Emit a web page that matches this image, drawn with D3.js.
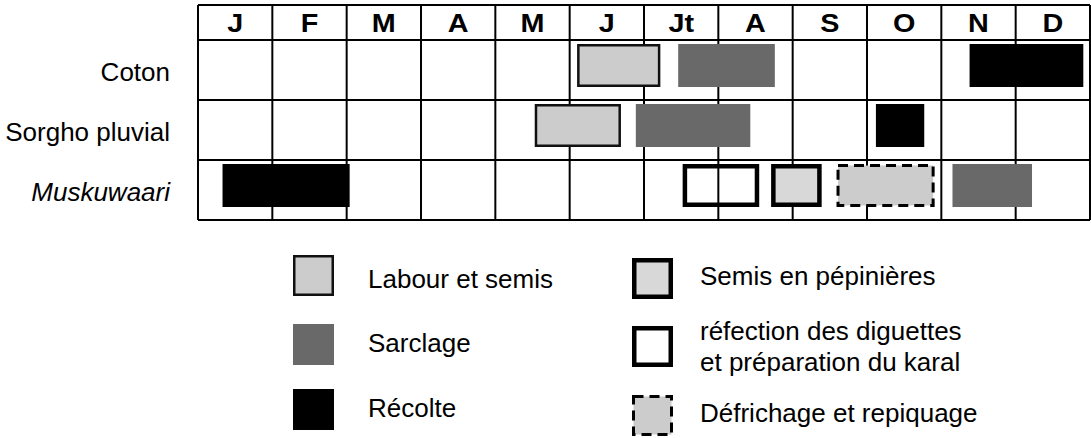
<!DOCTYPE html>
<html>
<head>
<meta charset="utf-8">
<script src="https://cdn.jsdelivr.net/npm/d3@7"></script>
<style>
  body { margin: 0; background: #fff; }
  text { font-family: "Liberation Sans", Arial, sans-serif; }
</style>
</head>
<body>
<svg id="calendar-svg"></svg>
<script>
const WIDTH = 1091;
const HEIGHT = 438;

// Datos.
const MONTHS = ["J", "F", "M", "A", "M", "J", "Jt", "A", "S", "O", "N", "D"];
const CROPS = ["Coton", "Sorgho pluvial", "Muskuwaari"];
const ITALIC_CROPS = ["Muskuwaari"];

// activity keys and legend texts (lines)
const ACTIVITIES = ["labour", "sarclage", "recolte", "pepiniere", "refection", "defrichage"];
const ACTIVITY_LABELS = [
  ["Labour et semis"],
  ["Sarclage"],
  ["Récolte"],
  ["Semis en pépinières"],
  ["réfection des diguettes", "et préparation du karal"],
  ["Défrichage et repiquage"]
];

// tasks: crop, activity, start / end in months from 1 January
const TASK_CROP = ["Coton", "Coton", "Coton",
                   "Sorgho pluvial", "Sorgho pluvial", "Sorgho pluvial",
                   "Muskuwaari", "Muskuwaari", "Muskuwaari", "Muskuwaari", "Muskuwaari"];
const TASK_ACTIVITY = ["labour", "sarclage", "recolte",
                       "labour", "sarclage", "recolte",
                       "recolte", "refection", "pepiniere", "defrichage", "sarclage"];
const TASK_START = [5.10, 6.46, 10.38, 4.53, 5.89, 9.12, 0.33, 6.52, 7.71, 8.59, 10.15];
const TASK_END   = [6.22, 7.76, 11.91, 5.69, 7.43, 9.77, 2.04, 7.55, 8.39, 9.91, 11.22];

// Estilos por actividad.
const FILL = d3.scaleOrdinal().domain(ACTIVITIES)
  .range(["#cccccc", "#696969", "#000000", "#d8d8d8", "none", "#cccccc"]);
const STROKE = d3.scaleOrdinal().domain(ACTIVITIES)
  .range(["#111", "none", "none", "#000", "#000", "#000"]);
const STROKE_W = d3.scaleOrdinal().domain(ACTIVITIES)
  .range([2.5, 0, 0, 4.5, 4.5, 3]);
const DASH = d3.scaleOrdinal().domain(ACTIVITIES)
  .range([null, null, null, null, null, "10,6"]);

const tasks = TASK_CROP.map((c, i) => ({
  crop: c, activity: TASK_ACTIVITY[i], start: TASK_START[i], end: TASK_END[i]
}));

// Configuración.
const GRID = { left: 198, right: 1090, top: 5, header: 40, bottom: 220 };

const svg = d3.select("svg#calendar-svg")
  .attr("width", WIDTH)
  .attr("height", HEIGHT);

const x = d3.scaleLinear().domain([0, 12]).range([GRID.left, GRID.right]);
const y = d3.scaleBand().domain(CROPS).range([GRID.header, GRID.bottom]);

// header labels (bold, a bit wide in the original)
svg.append("g").attr("id", "months")
  .selectAll("text")
  .data(MONTHS)
  .join("text")
    .attr("transform", (d, i) => `translate(${x(i + 0.5)}, 32) scale(1.15, 1)`)
    .attr("text-anchor", "middle")
    .attr("font-size", 25)
    .attr("font-weight", "bold")
    .text(d => d);

// crop labels
svg.append("g").attr("id", "crops")
  .selectAll("text")
  .data(CROPS)
  .join("text")
    .attr("x", 170)
    .attr("y", d => y(d) + y.bandwidth() / 2 + 11)
    .attr("text-anchor", "end")
    .attr("font-size", 26)
    .attr("font-style", d => ITALIC_CROPS.includes(d) ? "italic" : "normal")
    .text(d => d);

// grid
const grid = svg.append("g").attr("id", "grid")
  .attr("stroke", "#000")
  .attr("stroke-width", 2);

grid.selectAll("line.v")
  .data(d3.range(13))
  .join("line")
    .attr("class", "v")
    .attr("x1", d => x(d)).attr("x2", d => x(d))
    .attr("y1", GRID.top).attr("y2", GRID.bottom);

const hLines = [GRID.top].concat(CROPS.map(c => y(c)), [GRID.bottom]);
grid.selectAll("line.h")
  .data(hLines)
  .join("line")
    .attr("class", "h")
    .attr("x1", GRID.left).attr("x2", GRID.right)
    .attr("y1", d => d).attr("y2", d => d);

// bars
const BAR_INSET = 4;
const BAR_H = 43;

svg.append("g").attr("id", "tasks")
  .selectAll("rect")
  .data(tasks)
  .join("rect")
    .attr("x", d => x(d.start) + STROKE_W(d.activity) / 2)
    .attr("y", d => y(d.crop) + BAR_INSET + STROKE_W(d.activity) / 2)
    .attr("width", d => x(d.end) - x(d.start) - STROKE_W(d.activity))
    .attr("height", d => BAR_H - STROKE_W(d.activity))
    .attr("fill", d => FILL(d.activity))
    .attr("stroke", d => STROKE(d.activity))
    .attr("stroke-width", d => STROKE_W(d.activity))
    .attr("stroke-dasharray", d => DASH(d.activity));

// legend positions
const LEG_BOX_X = [293, 293, 293, 632, 632, 632];
const LEG_BOX_Y = [255, 324, 389, 258, 326, 395];
const LEG_TEXT_X = [368, 368, 368, 700, 700, 700];
const LEG_TEXT_Y = [288, 352, 417, 285, 340, 422];
const LEG_BOX = 41;

const legend = svg.append("g").attr("id", "legend");

legend.selectAll("rect")
  .data(ACTIVITIES)
  .join("rect")
    .attr("x", (d, i) => LEG_BOX_X[i] + STROKE_W(d) / 2)
    .attr("y", (d, i) => LEG_BOX_Y[i] + STROKE_W(d) / 2)
    .attr("width", d => LEG_BOX - STROKE_W(d))
    .attr("height", d => LEG_BOX - STROKE_W(d))
    .attr("fill", d => FILL(d) === "none" ? "#fff" : FILL(d))
    .attr("stroke", d => STROKE(d))
    .attr("stroke-width", d => STROKE_W(d))
    .attr("stroke-dasharray", d => DASH(d));

legend.selectAll("text")
  .data(ACTIVITIES)
  .join("text")
    .attr("x", (d, i) => LEG_TEXT_X[i])
    .attr("y", (d, i) => LEG_TEXT_Y[i])
    .attr("font-size", 26)
    .each(function (d, i) {
      const t = d3.select(this);
      ACTIVITY_LABELS[i].forEach((line, k) => {
        t.append("tspan")
          .attr("x", LEG_TEXT_X[i])
          .attr("dy", k === 0 ? 0 : 31)
          .text(line);
      });
    });
</script>
</body>
</html>
